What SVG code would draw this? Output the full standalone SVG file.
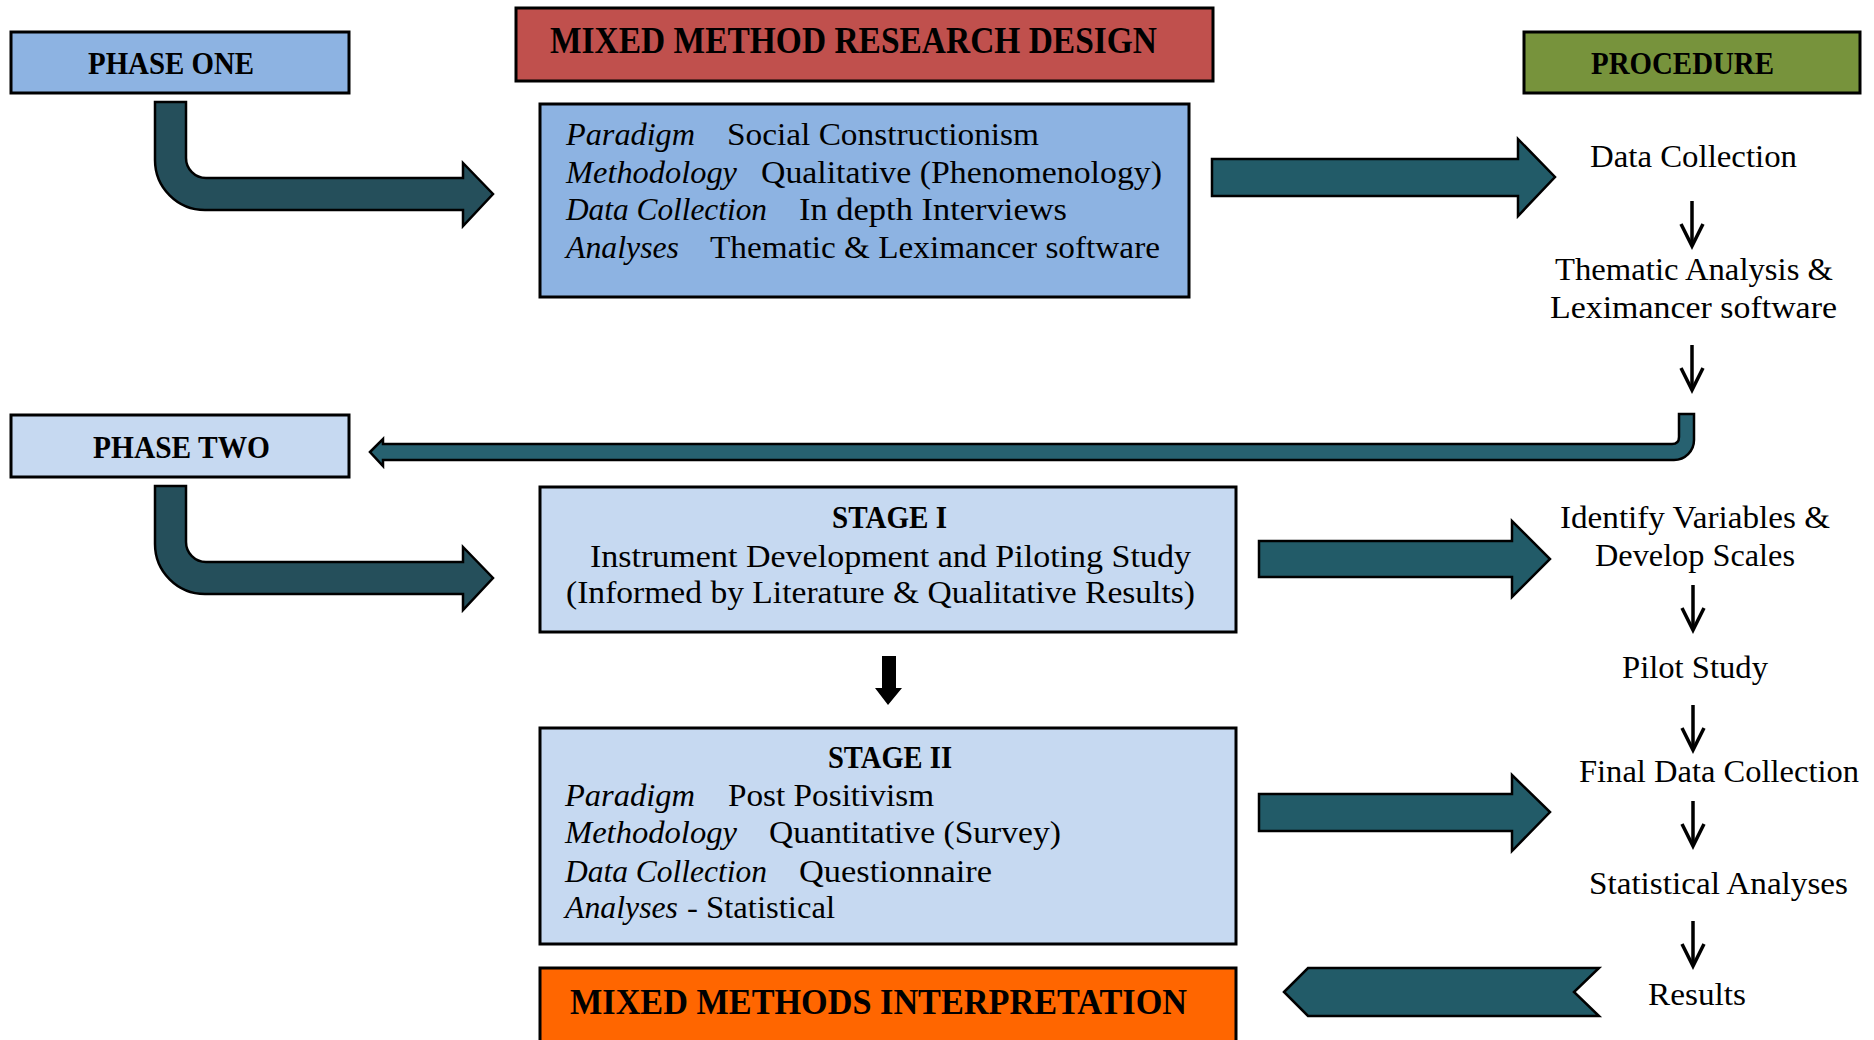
<svg xmlns="http://www.w3.org/2000/svg" width="1874" height="1040" viewBox="0 0 1874 1040">
<style>
.box{stroke:#000;stroke-width:3}
.t{font-family:"Liberation Serif",serif;font-size:31px;fill:#000}
.i{font-style:italic}
.h{font-weight:bold;font-size:32px}
.arr{stroke:#000;stroke-width:2.5;stroke-linejoin:miter}
.sa{fill:none;stroke:#000;stroke-width:3.5}
</style>
<defs>
<g id="small-arrow">
<line x1="0" y1="0" x2="0" y2="44" class="sa"/>
<polyline points="-11,23 0,45 11,23" class="sa"/>
</g>
</defs>
<rect width="1874" height="1040" fill="#fff"/>

<g id="connectors">
<path id="elbow1" class="arr" fill="#254F5B" d="M155,102 L186,102 L186,158 A20,20 0 0 0 206,178 L463,178 L463,163 L493,194 L463,226 L463,210 L205,210 A50,50 0 0 1 155,160 Z"/>
<path id="elbow2" class="arr" fill="#254F5B" transform="translate(0,384)" d="M155,102 L186,102 L186,158 A20,20 0 0 0 206,178 L463,178 L463,163 L493,194 L463,226 L463,210 L205,210 A50,50 0 0 1 155,160 Z"/>
<path id="arrow1" class="arr" fill="#225B68" d="M1212,159 L1518,159 L1518,139 L1555,177 L1518,216 L1518,196 L1212,196 Z"/>
<path id="arrow2" class="arr" fill="#225B68" d="M1259,541 L1512,541 L1512,521 L1550,559 L1512,597 L1512,577 L1259,577 Z"/>
<path id="arrow3" class="arr" fill="#225B68" d="M1259,794 L1512,794 L1512,775 L1550,812 L1512,851 L1512,831 L1259,831 Z"/>
<path id="return" class="arr" fill="#276170" d="M370,452 L383,439 L383,444 L1672,444 Q1679,444 1679,437 L1679,414 L1694,414 L1694,440 A20,20 0 0 1 1674,460 L383,460 L383,466 Z"/>
<path id="results-arrow" class="arr" fill="#225B68" d="M1284,992 L1308,968 L1599,968 L1574,992 L1599,1016 L1308,1016 Z"/>
<path id="stage-arrow" fill="#000" d="M882,656 L896,656 L896,688 L902,688 L888,705 L875,688 L882,688 Z"/>
<use href="#small-arrow" x="1692" y="201"/>
<use href="#small-arrow" x="1692" y="345"/>
<use href="#small-arrow" x="1693" y="585"/>
<use href="#small-arrow" x="1693" y="705"/>
<use href="#small-arrow" x="1693" y="801"/>
<use href="#small-arrow" x="1693" y="921"/>
</g>

<g id="phase-one">
<rect class="box" x="11" y="32" width="338" height="61" fill="#8DB3E2"/>
<text class="t h" x="88" y="74" textLength="166" lengthAdjust="spacingAndGlyphs">PHASE ONE</text>
</g>

<g id="title">
<rect class="box" x="516" y="8" width="697" height="73" fill="#C0504D"/>
<text class="t h" style="font-size:37px" x="550" y="53" textLength="607" lengthAdjust="spacingAndGlyphs">MIXED METHOD RESEARCH DESIGN</text>
</g>

<g id="procedure">
<rect class="box" x="1524" y="32" width="336" height="61" fill="#77933C"/>
<text class="t h" x="1591" y="74" textLength="183" lengthAdjust="spacingAndGlyphs">PROCEDURE</text>
</g>

<g id="phase-one-design">
<rect class="box" x="540" y="104" width="649" height="193" fill="#8DB3E2"/>
<text class="t i" x="566" y="145" textLength="129" lengthAdjust="spacingAndGlyphs">Paradigm</text>
<text class="t" x="727" y="145" textLength="312" lengthAdjust="spacingAndGlyphs">Social Constructionism</text>
<text class="t i" x="566" y="183" textLength="171" lengthAdjust="spacingAndGlyphs">Methodology</text>
<text class="t" x="761" y="183" textLength="401" lengthAdjust="spacingAndGlyphs">Qualitative (Phenomenology)</text>
<text class="t i" x="566" y="220" textLength="201" lengthAdjust="spacingAndGlyphs">Data Collection</text>
<text class="t" x="799" y="220" textLength="268" lengthAdjust="spacingAndGlyphs">In depth Interviews</text>
<text class="t i" x="566" y="258" textLength="113" lengthAdjust="spacingAndGlyphs">Analyses</text>
<text class="t" x="710" y="258" textLength="450" lengthAdjust="spacingAndGlyphs">Thematic &amp; Leximancer software</text>
</g>

<g id="proc-data-collection">
<text class="t" x="1590" y="167" textLength="207" lengthAdjust="spacingAndGlyphs">Data Collection</text>
</g>
<g id="proc-thematic">
<text class="t" x="1555" y="280" textLength="278" lengthAdjust="spacingAndGlyphs">Thematic Analysis &amp;</text>
<text class="t" x="1550" y="318" textLength="287" lengthAdjust="spacingAndGlyphs">Leximancer software</text>
</g>

<g id="phase-two">
<rect class="box" x="11" y="415" width="338" height="62" fill="#C6D9F1"/>
<text class="t h" x="93" y="458" textLength="177" lengthAdjust="spacingAndGlyphs">PHASE TWO</text>
</g>

<g id="stage-one">
<rect class="box" x="540" y="487" width="696" height="145" fill="#C6D9F1"/>
<text class="t h" x="832" y="528" textLength="115" lengthAdjust="spacingAndGlyphs">STAGE I</text>
<text class="t" x="590" y="567" textLength="601" lengthAdjust="spacingAndGlyphs">Instrument Development and Piloting Study</text>
<text class="t" x="566" y="603" textLength="629" lengthAdjust="spacingAndGlyphs">(Informed by Literature &amp; Qualitative Results)</text>
</g>

<g id="stage-two">
<rect class="box" x="540" y="728" width="696" height="216" fill="#C6D9F1"/>
<text class="t h" x="828" y="768" textLength="124" lengthAdjust="spacingAndGlyphs">STAGE II</text>
<text class="t i" x="565" y="806" textLength="130" lengthAdjust="spacingAndGlyphs">Paradigm</text>
<text class="t" x="728" y="806" textLength="206" lengthAdjust="spacingAndGlyphs">Post Positivism</text>
<text class="t i" x="565" y="843" textLength="172" lengthAdjust="spacingAndGlyphs">Methodology</text>
<text class="t" x="769" y="843" textLength="292" lengthAdjust="spacingAndGlyphs">Quantitative (Survey)</text>
<text class="t i" x="565" y="882" textLength="202" lengthAdjust="spacingAndGlyphs">Data Collection</text>
<text class="t" x="799" y="882" textLength="193" lengthAdjust="spacingAndGlyphs">Questionnaire</text>
<text class="t i" x="565" y="918" textLength="113" lengthAdjust="spacingAndGlyphs">Analyses</text>
<text class="t" x="687" y="918" textLength="148" lengthAdjust="spacingAndGlyphs">- Statistical</text>
</g>

<g id="interpretation">
<rect class="box" x="540" y="968" width="696" height="80" fill="#FF6600"/>
<text class="t h" style="font-size:35px" x="570" y="1014" textLength="617" lengthAdjust="spacingAndGlyphs">MIXED METHODS INTERPRETATION</text>
</g>

<g id="proc-identify">
<text class="t" x="1560" y="528" textLength="270" lengthAdjust="spacingAndGlyphs">Identify Variables &amp;</text>
<text class="t" x="1595" y="566" textLength="200" lengthAdjust="spacingAndGlyphs">Develop Scales</text>
</g>
<g id="proc-pilot">
<text class="t" x="1622" y="678" textLength="146" lengthAdjust="spacingAndGlyphs">Pilot Study</text>
</g>
<g id="proc-final">
<text class="t" x="1579" y="782" textLength="280" lengthAdjust="spacingAndGlyphs">Final Data Collection</text>
</g>
<g id="proc-stats">
<text class="t" x="1589" y="894" textLength="259" lengthAdjust="spacingAndGlyphs">Statistical Analyses</text>
</g>
<g id="proc-results">
<text class="t" x="1648" y="1005" textLength="98" lengthAdjust="spacingAndGlyphs">Results</text>
</g>
</svg>
